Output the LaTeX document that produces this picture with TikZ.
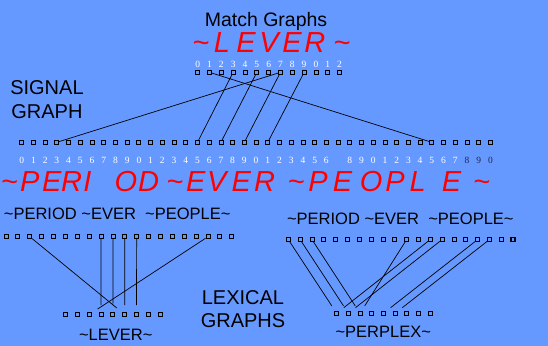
\documentclass[tikz,border=0pt]{standalone}
\usepackage{fontspec}
\setmainfont{Liberation Sans}
\newfontfamily\digitfont{Liberation Serif}
\definecolor{slideblue}{RGB}{102,153,255}
\definecolor{digitdark}{RGB}{30,40,80}

\begin{document}
\begin{tikzpicture}[
    sq/.style={rectangle, draw=black, line width=0.8pt, minimum size=4pt, inner sep=0pt},
    sqbold/.style={sq, line width=1.5pt},
    digit/.style={inner sep=0pt, font=\digitfont\fontsize{9.5}{10}\selectfont},
    redletter/.style={anchor=base, inner sep=0pt, text=red, font=\fontsize{29}{30}\selectfont\itshape},
    heading/.style={align=center, inner sep=0pt, font=\fontsize{20}{24}\selectfont},
    wordline/.style={anchor=base, inner sep=0pt, font=\fontsize{16.5}{18}\selectfont},
    link/.style={line width=0.7pt, black}
  ]
    \fill[slideblue] (0,0) rectangle (19.26,12.16);
    \useasboundingbox (0,0) rectangle (19.26,12.16);

    \node[anchor=base, font=\fontsize{19.5}{22}\selectfont] (title) at (9.35,11.24) {Match Graphs};

    % match graph ~LEVER~
    \foreach \ch/\px [count=\k] in {\textasciitilde/7.063, L/7.801, E/8.644, V/9.453,
                                    E/10.261, R/11.069, \textasciitilde/12.018}
      \node[redletter] (lv\k) at (\px,10.317) {\ch};
    \foreach \j in {0,...,12}{
      \node[sq] (mg\j) at (6.947+0.4157*\j,9.618) {};
      \pgfmathtruncatemacro\dg{mod(\j,10)}
      \node[digit, text=white] (md\j) at (6.947+0.4157*\j,9.90) {\dg};
    }

    \node[heading] (signal) at (1.65,8.65) {SIGNAL\\GRAPH};

    % signal graph
    \foreach \i in {0,...,40}{
      \node[sq] (sg\i) at (0.763+0.4118*\i,7.158) {};
      \pgfmathtruncatemacro\dg{mod(\i,10)}
      \ifnum\i=27 \else
        \ifnum\i>37 \def\dcol{digitdark}\else\def\dcol{white}\fi
        \node[digit, text=\dcol] (sd\i) at (0.763+0.4118*\i,6.511) {\dg};
      \fi
    }
    \foreach \ch/\px [count=\k] in {\textasciitilde/0.330, P/1.044, E/1.817, R/2.520, I/3.071,
                                    O/4.424, D/5.222, \textasciitilde/6.143, E/6.880, V/7.618,
                                    E/8.479, R/9.302, \textasciitilde/10.409, P/11.182, E/12.043,
                                    O/13.048, P/13.884, L/14.681, E/15.873, \textasciitilde/16.930}
      \node[redletter] (pe\k) at (\px,5.422) {\ch};

    \draw[link] (mg1) -- (sg35);
    \draw[link] (mg7) -- (sg3);
    \draw[link] (mg3) -- (sg15);
    \draw[link] (mg5) -- (sg17);
    \draw[link] (mg7) -- (sg19);
    \draw[link] (mg9) -- (sg21);

    % lexical graph: LEVER
    \node[wordline] (leftwords) at (4.118,4.428)
      {\textasciitilde PERIOD \textasciitilde EVER\ \ \textasciitilde PEOPLE\textasciitilde};
    \foreach \i in {0,...,18}
      \node[sq] (lu\i) at (0.211+0.4175*\i,3.841) {};
    \node[sqbold] (lu19) at (0.211+0.4175*19,3.841) {};
    \foreach \k in {0,...,8}
      \node[sq] (ll\k) at (2.309+0.4147*\k,1.107) {};
    \node[wordline] (leverword) at (4.069,0.176) {\textasciitilde LEVER\textasciitilde};

    \draw[link, shorten >=7pt] (lu2) -- (ll5);
    \draw[link, shorten >=7pt] (lu17) -- (ll2);
    \draw[link, shorten >=7pt] (lu8) -- (ll3);
    \draw[link, shorten >=7pt] (lu9) -- (ll4);
    \draw[link, shorten >=7pt] (lu10) -- (ll5);
    \draw[link, shorten >=7pt] (lu11) -- (ll6);

    \node[heading, font=\fontsize{20}{23}\selectfont] (lexical) at (8.54,1.31) {LEXICAL\\GRAPHS};

    % lexical graph: PERPLEX
    \node[wordline] (rightwords) at (14.07,4.277)
      {\textasciitilde PERIOD \textasciitilde EVER\ \ \textasciitilde PEOPLE\textasciitilde};
    \foreach \i in {0,...,18}
      \node[sq] (ru\i) at (10.131+0.4161*\i,3.742) {};
    \node[sqbold] (ru19) at (10.131+0.4161*19,3.742) {};
    \foreach \k in {0,...,8}
      \node[sq] (rl\k) at (11.832+0.4111*\k,1.149) {};
    \node[wordline] (perplexword) at (13.47,0.292) {\textasciitilde PERPLEX\textasciitilde};

    \draw[link, shorten >=6pt] (ru0) -- (rl0);
    \draw[link, shorten >=6pt] (ru1) -- (rl1);
    \draw[link, shorten >=6pt] (ru2) -- (rl2);
    \draw[link, shorten >=6pt] (ru10) -- (rl2);
    \draw[link, shorten >=6pt] (ru12) -- (rl0);
    \draw[link, shorten >=6pt] (ru13) -- (rl1);
    \draw[link, shorten >=6pt] (ru16) -- (rl4);
    \draw[link, shorten >=6pt] (ru17) -- (rl5);
  \end{tikzpicture}
\end{document}
